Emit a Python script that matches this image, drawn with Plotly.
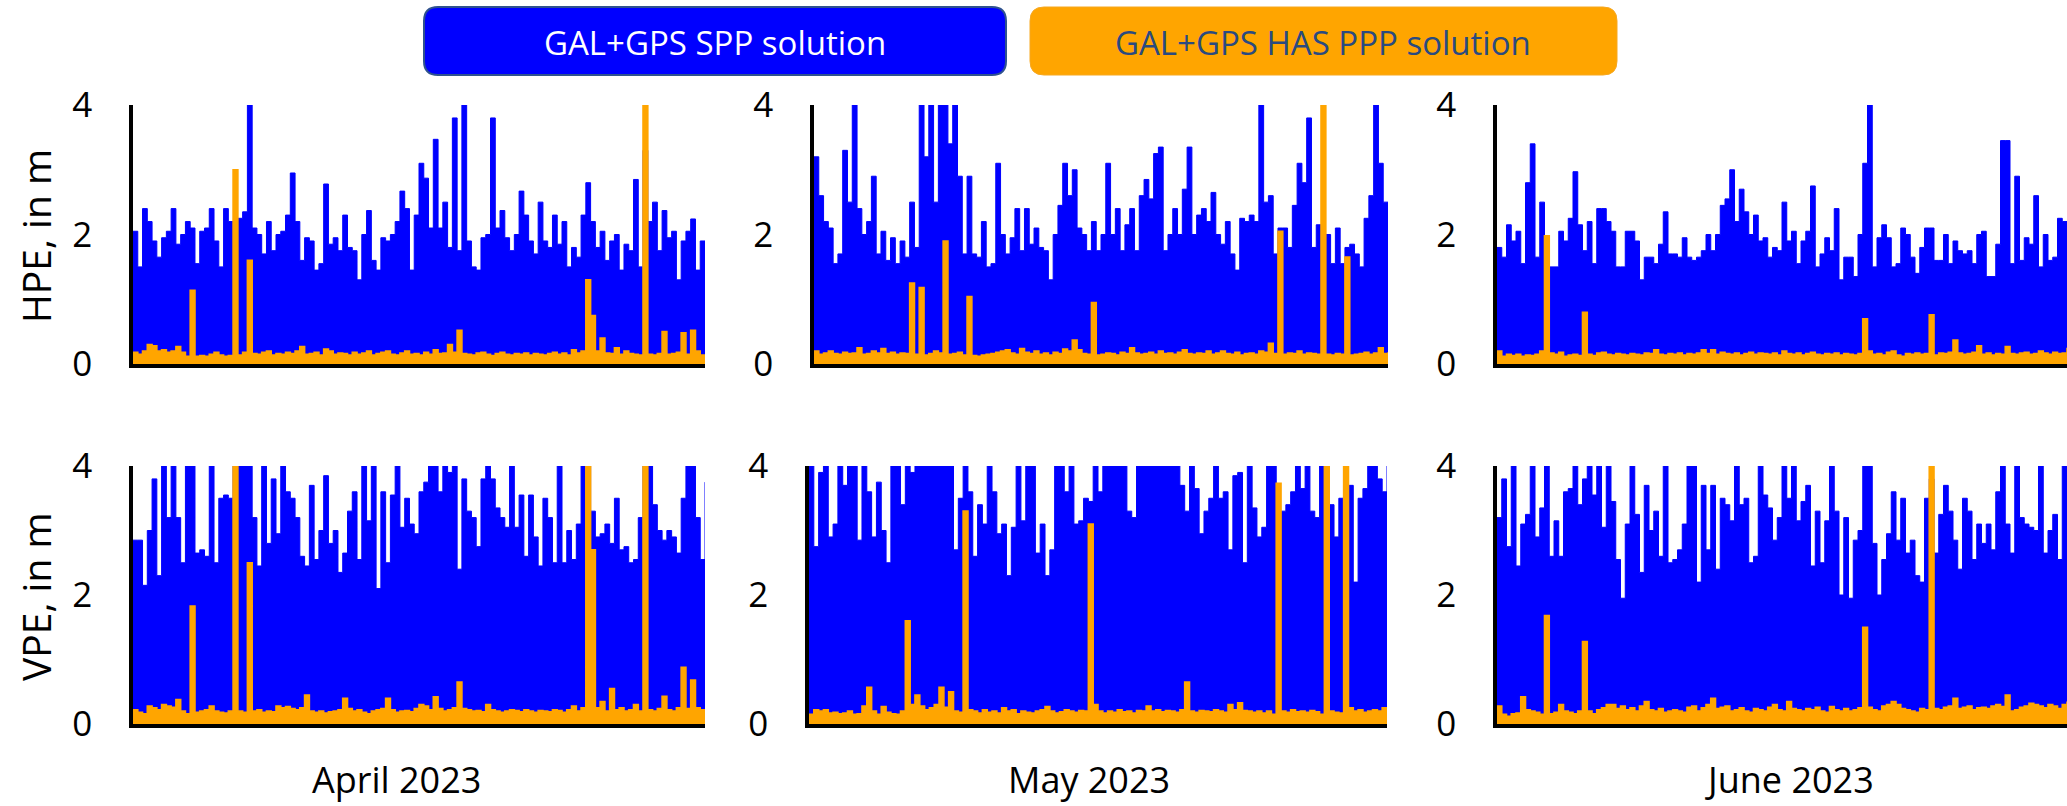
import plotly.graph_objects as go

W, H = 2067, 806

months = ["April 2023", "May 2023", "June 2023"]
row_titles = ["HPE, in m", "VPE, in m"]
legend_labels = ["GAL+GPS SPP solution", "GAL+GPS HAS PPP solution"]
y_tick_vals = [0, 2, 4]

# ---- GAL+GPS SPP solution (blue), sampled across each month ----
hpe_spp_apr = [2.05,1.5,2.4,2.2,1.9,1.65,1.95,2.05,2.4,1.85,2.0,2.2,2.1,1.55,2.05,2.1,2.4,1.9,1.5,2.4,
               2.2,2.2,2.25,2.35,4.2,2.1,2.0,1.7,2.2,1.75,2.0,2.05,2.3,2.95,2.2,1.6,1.95,1.9,1.45,1.55,
               2.78,1.85,1.95,1.75,2.3,1.8,1.75,1.3,2.0,2.37,1.6,1.45,1.95,1.9,2.0,2.2,2.67,2.4,1.45,2.3,
               3.1,2.87,2.1,3.47,2.1,2.5,1.8,3.8,1.75,4.2,1.9,1.5,1.45,1.95,2.0,3.8,2.1,2.37,1.95,1.75,
               2.0,2.67,2.3,1.9,1.7,2.5,1.9,1.8,2.3,1.85,2.2,1.5,1.8,1.65,2.3,2.8,2.2,1.8,2.05,1.6,
               1.9,2.0,1.45,1.85,1.75,2.85,1.5,3.3,2.2,2.5,1.75,2.37,1.95,2.05,1.3,1.9,2.05,2.24,1.45,1.9,
               1.6]
hpe_spp_may = [3.2,2.6,2.2,2.1,1.55,1.7,3.3,2.5,4.4,2.4,2.0,2.2,2.9,1.7,2.05,1.6,1.95,1.55,1.9,1.65,
               2.5,1.8,4.4,3.2,4.4,2.5,4.4,4.4,3.4,4.4,2.9,1.7,2.9,1.7,1.65,2.2,1.5,1.55,3.1,2.0,
               1.7,1.95,2.4,1.75,2.4,1.85,2.1,1.8,1.75,1.3,2.0,2.45,3.1,2.6,3.0,2.1,2.0,1.75,2.2,1.75,
               2.0,3.1,2.0,2.4,1.75,2.15,2.4,1.75,2.6,2.85,2.55,3.25,3.35,1.75,2.0,2.4,2.0,2.7,3.35,2.0,
               2.3,2.4,2.2,2.65,2.0,1.85,2.2,1.7,1.45,2.25,2.2,2.3,2.2,4.4,2.5,2.6,1.7,2.1,2.1,1.8,
               2.45,3.1,2.8,3.8,1.8,2.15,1.8,2.0,1.55,2.1,1.55,1.8,1.85,1.7,1.5,2.25,2.6,4.4,3.1,2.5,
               2.45]
hpe_spp_jun = [1.8,1.65,2.15,1.9,2.05,1.55,2.8,3.4,1.65,2.5,1.85,1.5,1.5,2.05,1.9,2.25,2.97,2.15,1.75,2.2,
               1.55,2.4,2.4,2.2,2.05,1.5,1.5,2.05,2.05,1.9,1.3,1.65,1.65,1.55,1.85,2.35,1.7,1.7,1.65,1.95,
               1.65,1.6,1.65,1.75,2.0,1.75,2.0,2.45,2.55,3.0,2.2,2.7,2.35,2.0,2.3,1.9,1.95,1.65,1.8,1.75,
               2.5,1.9,2.05,1.55,1.9,2.05,2.75,1.5,1.7,1.95,1.75,2.4,1.3,1.65,1.65,1.35,2.0,3.1,4.05,1.5,
               1.95,2.15,1.95,1.5,1.55,2.1,2.0,1.65,1.4,1.8,2.1,2.1,1.6,1.6,2.0,1.55,1.9,1.75,1.7,1.75,
               1.55,2.0,2.05,1.35,1.35,1.85,3.45,3.45,1.55,2.9,1.6,1.95,1.85,2.6,1.5,2.0,1.6,1.65,2.25,2.2,
               1.5]
vpe_spp_apr = [2.85,2.85,2.15,3.0,3.8,2.3,4.3,3.2,4.5,3.2,2.5,4.2,4.4,2.65,2.7,2.6,4.2,2.5,3.5,3.55,
               3.5,4.4,4.5,4.6,4.2,3.2,2.45,4.3,2.8,3.8,2.95,4.2,3.6,3.5,3.2,2.6,2.45,3.7,2.55,3.0,
               3.85,2.8,3.0,2.35,2.65,3.3,3.6,2.55,4.3,3.15,4.2,2.1,3.6,2.5,3.55,4.2,3.05,3.5,3.1,2.95,
               3.6,3.75,4.3,4.5,3.6,4.4,3.9,4.3,2.4,3.8,3.3,3.2,2.75,3.8,4.2,3.8,3.35,3.2,3.05,4.2,
               3.05,3.55,2.6,3.55,2.9,2.45,3.5,3.2,2.5,4.3,2.5,3.0,2.55,3.1,4.4,4.5,3.3,2.9,2.95,3.1,
               2.8,3.5,2.7,2.75,2.5,2.55,3.2,4.3,4.5,3.4,3.0,2.85,3.0,2.9,2.65,3.5,4.3,4.4,3.2,2.55,
               3.75]
vpe_spp_may = [4.4,2.75,3.9,4.3,2.9,3.1,4.4,3.7,4.5,4.2,2.85,4.3,3.6,2.9,3.75,3.0,2.5,4.3,4.2,3.4,
               4.4,3.9,4.6,4.5,4.8,4.6,4.7,4.5,4.6,4.2,2.7,3.5,4.3,3.6,2.6,3.4,3.1,4.2,3.6,2.95,
               3.1,2.3,3.05,4.3,3.15,4.4,4.2,2.65,3.1,2.3,2.7,4.3,4.5,3.6,4.4,3.1,3.15,3.5,3.45,4.2,
               3.6,4.4,4.6,4.5,4.7,4.4,3.3,3.2,4.3,4.5,4.6,4.8,4.5,4.7,4.6,4.5,4.3,3.7,3.3,4.3,
               3.65,2.95,3.3,3.5,4.4,3.5,3.6,2.7,3.85,3.9,2.5,4.2,3.35,2.9,3.05,4.4,4.3,2.95,3.3,3.4,
               3.6,4.3,3.65,4.2,3.3,3.2,4.4,4.3,3.4,2.9,3.5,3.0,3.7,2.2,3.5,3.65,4.3,4.2,3.8,3.6,
               4.3]
vpe_spp_jun = [3.2,3.8,2.75,4.3,2.45,3.1,3.25,4.2,2.9,3.35,4.3,2.6,3.15,2.6,3.6,3.65,4.2,3.4,3.8,4.3,
               3.55,4.4,3.05,4.3,3.45,2.55,1.95,3.1,4.2,3.25,2.35,3.7,3.0,3.3,2.6,4.3,2.5,2.55,2.7,3.1,
               4.3,4.4,2.2,3.7,2.7,3.7,2.4,3.5,3.4,3.15,4.3,3.4,3.5,2.5,2.6,4.3,3.55,3.35,2.85,3.2,
               4.2,3.5,4.4,3.15,3.45,3.7,2.45,3.3,2.5,3.15,4.3,3.3,2.0,3.2,1.95,2.85,3.0,4.3,4.4,2.8,
               2.0,2.55,2.95,3.6,2.85,3.5,2.65,2.85,2.3,2.2,3.5,3.8,2.65,3.25,3.7,3.3,2.85,2.4,3.5,3.3,
               2.55,3.1,2.8,3.1,2.7,3.6,4.3,3.1,2.65,4.2,3.2,3.1,3.05,3.0,4.2,2.65,3.0,3.25,2.55,4.2,
               2.5]

# ---- GAL+GPS HAS PPP solution (orange) ----
hpe_has_apr = [0.18,0.15,0.2,0.3,0.28,0.2,0.22,0.18,0.2,0.27,0.18,0.12,1.14,0.12,0.13,0.12,0.15,0.18,0.14,0.12,
               0.13,3.0,0.14,0.18,1.6,0.16,0.15,0.18,0.2,0.14,0.16,0.15,0.18,0.16,0.2,0.27,0.15,0.16,0.18,0.14,
               0.23,0.2,0.15,0.17,0.16,0.14,0.18,0.15,0.17,0.2,0.14,0.16,0.18,0.2,0.15,0.14,0.17,0.2,0.15,0.16,
               0.14,0.18,0.15,0.22,0.16,0.17,0.3,0.18,0.52,0.16,0.15,0.14,0.17,0.18,0.15,0.13,0.16,0.18,0.15,0.14,
               0.16,0.15,0.17,0.14,0.16,0.15,0.14,0.16,0.18,0.15,0.17,0.14,0.22,0.17,0.2,1.3,0.75,0.2,0.4,0.17,
               0.16,0.25,0.15,0.2,0.16,0.15,0.14,4.2,0.15,0.14,0.16,0.5,0.15,0.16,0.18,0.48,0.15,0.52,0.2,0.14,
               0.15]
hpe_has_may = [0.2,0.15,0.17,0.2,0.16,0.15,0.18,0.16,0.17,0.25,0.15,0.16,0.2,0.17,0.24,0.16,0.18,0.15,0.17,0.16,
               1.25,0.15,1.18,0.14,0.16,0.2,0.17,1.9,0.15,0.16,0.18,0.14,1.04,0.13,0.12,0.14,0.15,0.16,0.18,0.2,
               0.22,0.17,0.15,0.24,0.18,0.16,0.2,0.15,0.17,0.14,0.18,0.16,0.23,0.2,0.37,0.22,0.16,0.15,0.95,0.14,
               0.15,0.17,0.16,0.14,0.18,0.16,0.25,0.17,0.15,0.16,0.18,0.15,0.2,0.16,0.17,0.15,0.18,0.22,0.16,0.15,
               0.17,0.16,0.2,0.15,0.17,0.2,0.16,0.15,0.18,0.14,0.16,0.17,0.15,0.2,0.18,0.32,0.16,2.05,0.15,0.17,
               0.16,0.2,0.15,0.17,0.16,0.15,4.2,0.15,0.14,0.16,0.15,1.65,0.14,0.15,0.16,0.18,0.15,0.17,0.25,0.16,
               0.18]
hpe_has_jun = [0.2,0.12,0.15,0.13,0.15,0.12,0.14,0.13,0.15,0.2,1.98,0.17,0.15,0.18,0.12,0.14,0.15,0.13,0.8,0.15,
               0.13,0.17,0.18,0.15,0.14,0.16,0.15,0.14,0.16,0.15,0.14,0.17,0.16,0.22,0.15,0.14,0.16,0.15,0.17,0.14,
               0.16,0.15,0.17,0.22,0.16,0.22,0.15,0.18,0.16,0.15,0.17,0.14,0.16,0.18,0.15,0.17,0.16,0.15,0.17,0.14,
               0.2,0.16,0.15,0.17,0.14,0.16,0.18,0.15,0.14,0.16,0.15,0.17,0.14,0.16,0.15,0.14,0.16,0.7,0.2,0.15,
               0.16,0.14,0.18,0.2,0.14,0.12,0.16,0.15,0.17,0.15,0.16,0.76,0.14,0.17,0.16,0.18,0.37,0.17,0.15,0.16,
               0.18,0.28,0.15,0.17,0.14,0.16,0.15,0.27,0.16,0.15,0.17,0.18,0.15,0.16,0.2,0.17,0.15,0.18,0.16,0.17,
               0.25]
vpe_has_apr = [0.22,0.18,0.16,0.28,0.25,0.22,0.3,0.28,0.26,0.38,0.2,0.16,1.83,0.18,0.2,0.22,0.28,0.2,0.18,0.17,
               0.2,4.5,0.2,0.18,2.5,0.2,0.22,0.18,0.2,0.19,0.28,0.25,0.27,0.24,0.22,0.25,0.45,0.2,0.18,0.2,
               0.17,0.19,0.2,0.22,0.4,0.24,0.2,0.22,0.18,0.16,0.2,0.22,0.24,0.4,0.22,0.18,0.2,0.21,0.19,0.24,
               0.3,0.28,0.22,0.42,0.24,0.2,0.22,0.25,0.65,0.24,0.22,0.2,0.21,0.19,0.3,0.22,0.2,0.18,0.2,0.22,
               0.21,0.19,0.22,0.2,0.18,0.21,0.2,0.19,0.22,0.21,0.18,0.22,0.28,0.2,0.25,4.5,2.7,0.25,0.35,0.2,
               0.55,0.22,0.25,0.2,0.22,0.3,0.2,4.5,0.22,0.2,0.24,0.43,0.22,0.2,0.25,0.88,0.24,0.68,0.25,0.22,
               0.18]
vpe_has_may = [0.15,0.22,0.2,0.22,0.17,0.18,0.16,0.17,0.2,0.15,0.16,0.28,0.57,0.2,0.15,0.27,0.18,0.16,0.15,0.2,
               1.6,0.3,0.45,0.28,0.22,0.25,0.3,0.57,0.26,0.5,0.2,0.18,3.3,0.22,0.2,0.17,0.22,0.18,0.2,0.17,
               0.25,0.2,0.22,0.16,0.2,0.18,0.17,0.2,0.22,0.27,0.2,0.17,0.19,0.22,0.2,0.18,0.21,0.2,3.1,0.3,
               0.2,0.17,0.2,0.18,0.22,0.19,0.2,0.17,0.21,0.2,0.28,0.2,0.22,0.19,0.21,0.2,0.18,0.22,0.65,0.2,
               0.18,0.21,0.2,0.19,0.22,0.2,0.18,0.3,0.22,0.33,0.21,0.2,0.18,0.2,0.17,0.2,0.15,3.73,0.2,0.18,
               0.22,0.19,0.2,0.18,0.21,0.19,0.15,4.5,0.2,0.18,0.17,4.5,0.25,0.2,0.22,0.18,0.2,0.22,0.2,0.25,
               0.18]
vpe_has_jun = [0.28,0.15,0.12,0.16,0.17,0.42,0.22,0.2,0.18,0.15,1.68,0.16,0.18,0.3,0.2,0.18,0.16,0.2,1.28,0.2,
               0.16,0.22,0.25,0.3,0.3,0.24,0.28,0.22,0.25,0.2,0.28,0.35,0.22,0.2,0.24,0.18,0.2,0.22,0.2,0.18,
               0.26,0.28,0.2,0.25,0.3,0.4,0.24,0.26,0.28,0.2,0.22,0.25,0.2,0.18,0.24,0.22,0.2,0.26,0.3,0.22,
               0.2,0.35,0.24,0.22,0.2,0.24,0.22,0.26,0.2,0.18,0.27,0.22,0.2,0.24,0.2,0.22,0.25,1.5,0.26,0.22,
               0.2,0.28,0.3,0.35,0.3,0.24,0.22,0.2,0.18,0.24,0.22,4.5,0.24,0.22,0.26,0.28,0.4,0.24,0.26,0.28,
               0.22,0.25,0.26,0.24,0.28,0.3,0.27,0.45,0.2,0.22,0.26,0.28,0.32,0.3,0.28,0.25,0.3,0.28,0.24,0.3,
               0.35]

BLUE = "#0000FF"
ORANGE = "#FFA500"
FONT = "Open Sans"

# panel pixel boxes: (left, right, top, bottom)
panels = [
    (hpe_spp_apr, hpe_has_apr, (133, 705, 105, 364)),
    (hpe_spp_may, hpe_has_may, (814, 1388, 105, 364)),
    (hpe_spp_jun, hpe_has_jun, (1497, 2067, 105, 364)),
    (vpe_spp_apr, vpe_has_apr, (133, 705, 466, 724)),
    (vpe_spp_may, vpe_has_may, (809, 1387, 466, 724)),
    (vpe_spp_jun, vpe_has_jun, (1497, 2067, 466, 724)),
]

fig = go.Figure()
layout_axes = {}
for k, (spp, has, (x0, x1, y0, y1)) in enumerate(panels, start=1):
    xa = "x" if k == 1 else f"x{k}"
    ya = "y" if k == 1 else f"y{k}"
    n = max(len(spp), len(has))
    fig.add_trace(go.Scatter(
        x=[i * (n - 1) / (len(spp) - 1) for i in range(len(spp))], y=spp,
        mode="lines", line=dict(color=BLUE, width=1, shape="hv"),
        fill="tozeroy", fillcolor=BLUE, xaxis=xa, yaxis=ya,
        hoverinfo="skip", showlegend=False))
    fig.add_trace(go.Scatter(
        x=[i * (n - 1) / (len(has) - 1) for i in range(len(has))], y=has,
        mode="lines", line=dict(color=ORANGE, width=1.6, shape="hv"),
        fill="tozeroy", fillcolor=ORANGE, xaxis=xa, yaxis=ya,
        hoverinfo="skip", showlegend=False))
    xkey = "xaxis" if k == 1 else f"xaxis{k}"
    ykey = "yaxis" if k == 1 else f"yaxis{k}"
    layout_axes[xkey] = dict(
        domain=[x0 / W, x1 / W], range=[0, n - 1], anchor=ya,
        showticklabels=False, ticks="", showgrid=False, zeroline=False,
        showline=True, linecolor="black", linewidth=4, fixedrange=True,
        automargin=False)
    layout_axes[ykey] = dict(
        domain=[1 - y1 / H, 1 - y0 / H], range=[0, 4], anchor=xa,
        tickvals=y_tick_vals, ticktext=[str(v) for v in y_tick_vals],
        ticks="", showgrid=False, zeroline=False,
        showline=True, linecolor="black", linewidth=3.5,
        tickfont=dict(family=FONT, size=35, color="black"),
        ticklabelstandoff=30, fixedrange=True, automargin=False)

fig.update_layout(**layout_axes)


def px(x):
    return x / W


def py(y):
    return 1 - y / H


def rounded_rect(x0, y0, x1, y1, r):
    return (f"M {px(x0 + r)},{py(y0)} L {px(x1 - r)},{py(y0)} "
            f"Q {px(x1)},{py(y0)} {px(x1)},{py(y0 + r)} "
            f"L {px(x1)},{py(y1 - r)} Q {px(x1)},{py(y1)} {px(x1 - r)},{py(y1)} "
            f"L {px(x0 + r)},{py(y1)} Q {px(x0)},{py(y1)} {px(x0)},{py(y1 - r)} "
            f"L {px(x0)},{py(y0 + r)} Q {px(x0)},{py(y0)} {px(x0 + r)},{py(y0)} Z")


shapes = [
    dict(type="path", xref="paper", yref="paper",
         path=rounded_rect(424, 7, 1006, 75, 14),
         fillcolor=BLUE, line=dict(color="#2F528F", width=2)),
    dict(type="path", xref="paper", yref="paper",
         path=rounded_rect(1030, 7, 1617, 75, 14),
         fillcolor=ORANGE, line=dict(color="#F6A821", width=1)),
]

annotations = [
    dict(x=px(715), y=py(42), xref="paper", yref="paper", text=legend_labels[0],
         showarrow=False, font=dict(family=FONT, size=33, color="white"),
         xanchor="center", yanchor="middle"),
    dict(x=px(1323), y=py(42), xref="paper", yref="paper", text=legend_labels[1],
         showarrow=False, font=dict(family=FONT, size=33, color="#2A4A80"),
         xanchor="center", yanchor="middle"),
]
for title, yc in zip(row_titles, [236, 597]):
    annotations.append(dict(x=px(35), y=py(yc), xref="paper", yref="paper",
                            text=title, textangle=-90, showarrow=False,
                            font=dict(family=FONT, size=39, color="black"),
                            xanchor="center", yanchor="middle"))
for m, xc in zip(months, [396, 1089, 1789]):
    annotations.append(dict(x=px(xc), y=0, xref="paper", yref="paper",
                            text=m, showarrow=False, borderpad=0,
                            font=dict(family=FONT, size=36, color="black"),
                            xanchor="center", yanchor="bottom", yshift=1))

fig.update_layout(
    template="none",
    width=W, height=H, autosize=False,
    margin=dict(l=0, r=0, t=0, b=0, pad=0, autoexpand=False),
    paper_bgcolor="white", plot_bgcolor="white",
    showlegend=False, shapes=shapes, annotations=annotations,
)

fig.write_html("out.html", config={"displayModeBar": False})
